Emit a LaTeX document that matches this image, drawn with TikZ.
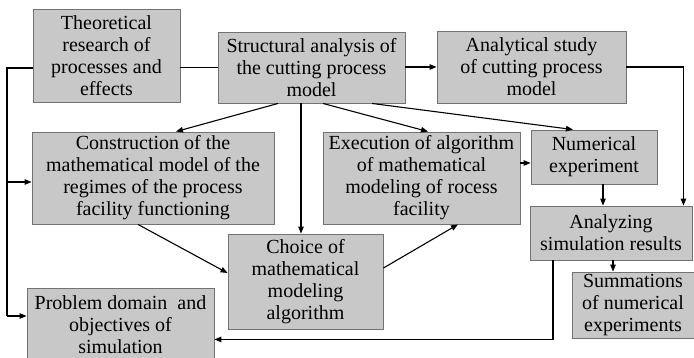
\documentclass[tikz,border=0pt]{standalone}
\usepackage{fontspec}
\setmainfont{Liberation Serif}
\usetikzlibrary{arrows.meta,calc}
\definecolor{boxfill}{RGB}{200,200,200}
\definecolor{boxline}{RGB}{115,115,115}
\begin{document}
\begin{tikzpicture}[x=1pt,y=-1pt,
  box/.style={draw=boxline,fill=boxfill,line width=0.9pt,inner sep=0pt,align=center,
    font=\fontsize{20}{22}\selectfont},
  conn/.style={line width=1.1pt,black},
  arr/.style={conn,-{Triangle[length=7pt,width=5.5pt]}}]
\useasboundingbox (0,0) rectangle (694,357);
\clip (0,0) rectangle (694,357);
\node[box,minimum width=147pt,minimum height=93pt] (b1) at (106.5,55.5) {Theoretical\\research of\\processes and\\effects};
\node[box,minimum width=187pt,minimum height=71pt] (b2) at (311.5,67.5) {Structural analysis of\\the cutting process\\model};
\node[box,minimum width=189pt,minimum height=72pt] (b3) at (531.5,67) {Analytical study\\of cutting process\\model};
\node[box,minimum width=242pt,minimum height=92pt] (b4) at (153,178) {Construction of the\\mathematical model of the\\regimes of the process\\facility functioning};
\node[box,minimum width=197pt,minimum height=92pt] (b5) at (421.5,178) {Execution of algorithm\\of mathematical\\modeling of rocess\\facility};
\node[box,minimum width=126pt,minimum height=54pt] (b6) at (594,157) {Numerical\\experiment};
\node[box,minimum width=155pt,minimum height=95pt] (b7) at (305.5,281.5) {Choice of\\mathematical\\modeling\\algorithm};
\node[box,minimum width=162pt,minimum height=54pt] (b8) at (611,233) {Analyzing\\simulation results};
\node[box,minimum width=122pt,minimum height=66pt] (b9) at (633,305) {Summations\\of numerical\\experiments};
\node[box,minimum width=187pt,minimum height=74pt] (b10) at (120.5,325) {Problem domain\ \ and\\objectives of\\simulation};
% connectors
\draw[conn] (b1.east |- b2.west) -- (b2.west);
\draw[arr] (b2.east |- b3.west) -- (b3.west);
\coordinate (busTop) at (7,68);
\coordinate (busMid) at (7,182);
\coordinate (busBot) at (7,316);
\draw[conn] (b1.west |- busTop) -- (busTop) -- (busBot);
\draw[arr] (busMid) -- (b4.west |- busMid);
\draw[arr] (busBot) -- (b10.west |- busBot);
\draw[arr] ($(b2.south)+(-33.5,0)$) -- ($(b4.north)+(23,0)$);
\coordinate (v7) at ($(b2.south)+(-10.5,0)$);
\draw[arr] (v7) -- (v7 |- b7.north);
\draw[arr] ($(b2.south)+(11.5,0)$) -- ($(b5.north)+(6.5,0)$);
\draw[arr] ($(b2.south)+(60.5,0)$) -- ($(b6.north)+(-21,0)$);
\draw[arr] ($(b5.east)+(0,-15)$) -- ($(b6.west)+(0,6)$);
\draw[arr] (b3.east) -- ++(57,0) coordinate (c3) -- (c3 |- b8.north);
\coordinate (v6) at ($(b6.south)+(9,0)$);
\draw[arr] (v6) -- (v6 |- b8.north);
\draw[arr] ($(b4.south)+(-15,0)$) -- ($(b7.west)+(0,-8.5)$);
\draw[arr] ($(b7.east)+(0,-13.5)$) -- ($(b5.south)+(36.5,0)$);
\coordinate (v8) at ($(b8.south)+(-58,0)$);
\coordinate (c8) at ($(v8)+(0,79)$);
\draw[arr] (v8) -- (c8) -- (c8 -| b10.east);
\coordinate (v9) at ($(b8.south)+(2,0)$);
\draw[arr] (v9) -- (v9 |- b9.north);
\end{tikzpicture}
\end{document}
